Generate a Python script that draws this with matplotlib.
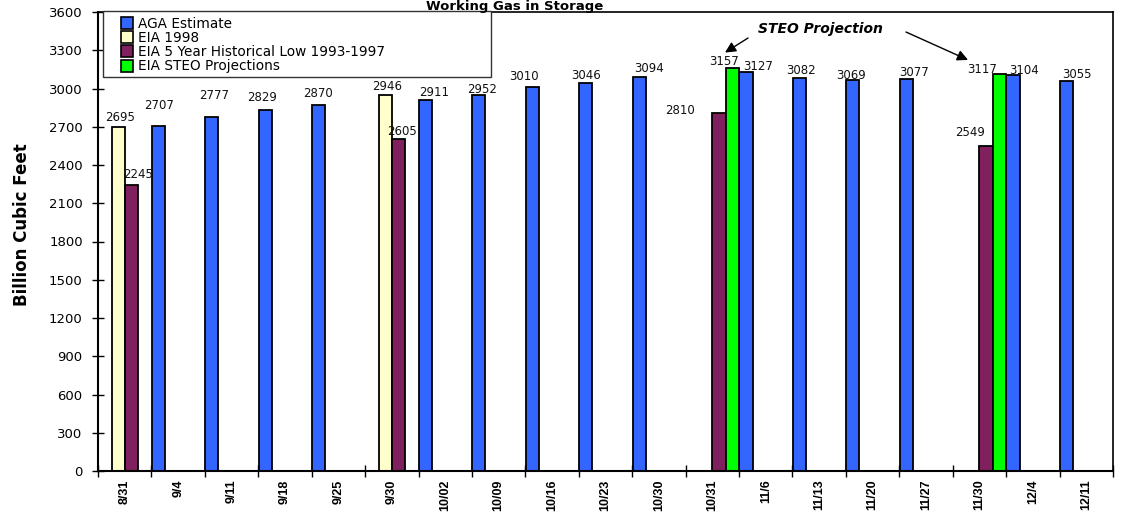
import numpy as np
import matplotlib
matplotlib.use("Agg")
import matplotlib.pyplot as plt
from matplotlib.lines import Line2D
from matplotlib.patches import Rectangle

plt.rcParams["font.family"] = ["DejaVu Sans"]

nan = np.nan
dates = ["8/31", "9/4", "9/11", "9/18", "9/25", "9/30", "10/02", "10/09", "10/16",
         "10/23", "10/30", "10/31", "11/6", "11/13", "11/20", "11/27", "11/30",
         "12/4", "12/11"]
aga = [nan, 2707, 2777, 2829, 2870, nan, 2911, 2952, 3010, 3046, 3094, nan,
       3127, 3082, 3069, 3077, nan, 3104, 3055]
eia_1998 = [2695, nan, nan, nan, nan, 2946, nan, nan, nan, nan, nan, nan,
            nan, nan, nan, nan, nan, nan, nan]
hist_low = [2245, nan, nan, nan, nan, 2605, nan, nan, nan, nan, nan, 2810,
            nan, nan, nan, nan, 2549, nan, nan]
steo = [nan, nan, nan, nan, nan, nan, nan, nan, nan, nan, nan, 3157,
        nan, nan, nan, nan, 3117, nan, nan]

series_names = ["AGA Estimate", "EIA 1998", "EIA 5 Year Historical Low 1993-1997",
                "EIA STEO Projections"]
colors = ["#3366FF", "#FFFFCC", "#80205F", "#00FF00"]

# label nudges in pixels (dx, dy) from bar top centre, mimicking the original placement
label_nudge = {
    (0, 1): (1, 17), (0, 2): (2, 18), (0, 3): (-3, 9), (0, 4): (-1, 8),
    (0, 6): (9, 4), (0, 7): (3, 2), (0, 8): (-8, 7), (0, 9): (0, 4),
    (0, 10): (10, 5), (0, 12): (12, 2), (0, 13): (2, 4), (0, 14): (-2, 1),
    (0, 15): (8, 3), (0, 17): (11, 1), (0, 18): (10, 3),
    (1, 0): (2, 6), (1, 5): (2, 5),
    (2, 0): (7, 7), (2, 5): (4, 4), (2, 11): (-39, -1), (2, 16): (-16, 10),
    (3, 11): (-8, 3), (3, 16): (-17, 1),
}

fig = plt.figure(figsize=(11.28, 5.16), dpi=100)
ax = fig.add_axes([98 / 1128, 1 - 471 / 516, 1015 / 1128, 459 / 516])

x = np.arange(len(dates))
bw = 0.247
all_series = [aga, eia_1998, hist_low, steo]
for i, (vals, col) in enumerate(zip(all_series, colors)):
    xs = x + (i - 1.5) * bw
    ax.bar(xs, vals, width=bw, color=col, edgecolor="black", linewidth=1.3, zorder=2)
    for j, v in enumerate(vals):
        if np.isnan(v):
            continue
        dx, dy = label_nudge.get((i, j), (0, 4))
        ax.annotate(f"{int(v)}", (xs[j], v), xytext=(dx, dy),
                    textcoords="offset pixels", ha="center", va="baseline",
                    fontsize=8.5, color="#111111", zorder=4)

ax.set_xlim(-0.5, len(dates) - 0.5)
ax.set_ylim(0, 3600)
ax.set_yticks(np.arange(0, 3601, 300))
ax.tick_params(axis="y", direction="inout", length=8, width=1, pad=7, labelsize=9.5)

ax.set_xticks(np.arange(-0.5, len(dates)), labels=[])
ax.set_xticks(x, labels=dates, minor=True)
ax.tick_params(axis="x", which="major", direction="inout", length=8, width=1)
ax.tick_params(axis="x", which="minor", length=0, pad=6, labelrotation=90)
for lab in ax.get_xticklabels(minor=True):
    lab.set_fontfamily("Liberation Sans")
    lab.set_fontweight("bold")
    lab.set_fontsize(9)
ax.set_axisbelow(True)

for side in ["left", "bottom"]:
    ax.spines[side].set_linewidth(1.5)
for side in ["top", "right"]:
    ax.spines[side].set_linewidth(1.2)

ax.set_ylabel("Billion Cubic Feet", fontsize=12, fontweight="bold")
ax.yaxis.set_label_coords(-0.066, 0.536)

fig.text(515 / 1128, 1 - 10 / 516, "Working Gas in Storage", ha="center", va="baseline",
         fontsize=9.5, fontweight="bold")

# legend frame + entries
ax.add_patch(Rectangle((0.0049, 0.858), 0.382, 0.144, transform=ax.transAxes,
                       facecolor="white", edgecolor="#333333", linewidth=1,
                       clip_on=False, zorder=5))
handles = [Line2D([], [], linestyle="none", marker="s", markersize=9,
                  markerfacecolor=c, markeredgecolor="black", markeredgewidth=1.2)
           for c in colors]
leg = ax.legend(handles, series_names, loc="upper left", bbox_to_anchor=(0.0227, 0.990),
                frameon=False, fontsize=9.8, handlelength=0.9, handletextpad=0.35,
                labelspacing=0.02, borderpad=0, borderaxespad=0)
leg.set_zorder(6)

# STEO projection callout
ax.text(13.016, 3467, "STEO Projection", ha="center", va="center", fontsize=10,
        fontweight="bold", fontstyle="italic")
arrow = dict(arrowstyle="-|>", color="black", lw=1, mutation_scale=16, shrinkA=0, shrinkB=0)
ax.annotate("", xy=(11.237, 3282), xytext=(11.668, 3396), arrowprops=arrow)
ax.annotate("", xy=(15.786, 3224), xytext=(14.625, 3443), arrowprops=arrow)

fig.savefig("out.png", dpi=100)
